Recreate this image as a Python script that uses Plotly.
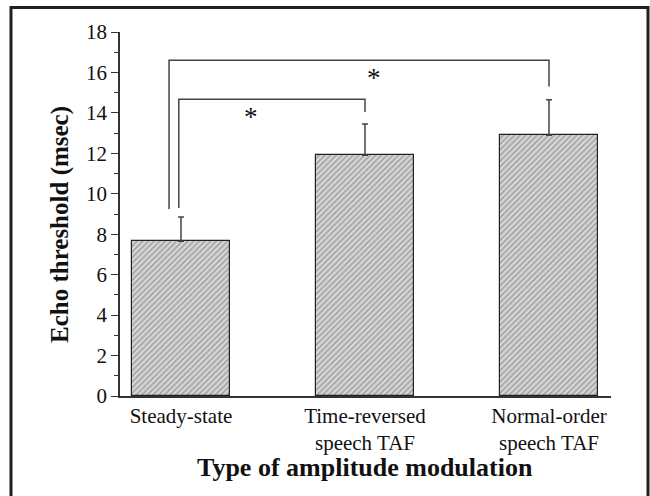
import plotly.graph_objects as go

categories = ["Steady-state", "Time-reversed<br>speech TAF", "Normal-order<br>speech TAF"]
means = [7.65, 11.9, 12.9]
errors = [1.2, 1.55, 1.75]
y_ticks = [0, 2, 4, 6, 8, 10, 12, 14, 16, 18]

# significance brackets: (left x, right x, left leg bottom, right leg bottom, top, star x, star y)
bracket_left_x = [-0.065, -0.012]
bracket_right_x = [2.0, 1.0]
bracket_left_bottom = [9.25, 9.3]
bracket_right_bottom = [15.3, 14.05]
bracket_top = [16.6, 14.68]
star_x = [1.05, 0.38]
star_y = [15.75, 13.8]

x_pos = list(range(len(categories)))
font_family = "Liberation Serif, Times New Roman, serif"

fig = go.Figure()
fig.add_trace(go.Bar(
    x=x_pos, y=means, width=0.533,
    marker=dict(
        color="#d2d2d2",
        line=dict(color="#222222", width=1.2),
        pattern=dict(shape="/", bgcolor="#d8d8d8", fgcolor="#707070", size=4, solidity=0.45),
    ),
    error_y=dict(type="data", symmetric=False, array=errors, arrayminus=[0] * len(errors),
                 color="#444444", thickness=1.5, width=3),
    showlegend=False,
))

for i in range(len(bracket_top)):
    fig.add_trace(go.Scatter(
        x=[bracket_left_x[i], bracket_left_x[i], bracket_right_x[i], bracket_right_x[i]],
        y=[bracket_left_bottom[i], bracket_top[i], bracket_top[i], bracket_right_bottom[i]],
        mode="lines", line=dict(color="#444444", width=1.5),
        showlegend=False, hoverinfo="skip", cliponaxis=False,
    ))
    fig.add_annotation(x=star_x[i], y=star_y[i], text="*", showarrow=False,
                       xanchor="center", yanchor="middle",
                       font=dict(size=27, color="#111111", family=font_family))

fig.update_layout(
    width=650, height=496,
    margin=dict(l=120, r=39, t=32, b=100),
    plot_bgcolor="white", paper_bgcolor="white",
    font=dict(family=font_family, color="#111111", size=21),
    bargap=0,
    xaxis=dict(
        range=[-0.3315, 2.337], tickmode="array", tickvals=x_pos, ticktext=categories,
        showline=True, linecolor="#333333", linewidth=1.5, ticks="", showgrid=False,
        zeroline=False, tickfont=dict(size=21),
    ),
    yaxis=dict(
        range=[0, 18], tickmode="array", tickvals=y_ticks,
        showline=True, linecolor="#333333", linewidth=1.5, ticks="outside", ticklen=7,
        tickcolor="#333333", tickwidth=1.2, showgrid=False, zeroline=False,
        minor=dict(dtick=1, ticks="outside", ticklen=4, tickcolor="#333333", tickwidth=1.2),
        tickfont=dict(size=21),
    ),
)

# axis titles placed as annotations to match the reference positions
fig.add_annotation(xref="paper", yref="paper", x=(365 - 120) / 491, y=(396 - 467) / 364,
                   xanchor="center", yanchor="middle",
                   text="<b>Type of amplitude modulation</b>", showarrow=False,
                   font=dict(size=26, family=font_family, color="#111111"))
fig.add_annotation(xref="paper", yref="paper", x=(60 - 120) / 491, y=(396 - 225) / 364,
                   xanchor="center", yanchor="middle",
                   text="<b>Echo threshold (msec)</b>", showarrow=False, textangle=-90,
                   font=dict(size=25, family=font_family, color="#111111"))

# outer frame
fig.add_shape(type="rect", xref="paper", yref="paper",
              x0=(11 - 120) / 491, x1=(648 - 120) / 491,
              y0=(396 - 510) / 364, y1=(396 - 7.5) / 364,
              line=dict(color="#231f20", width=3), fillcolor="rgba(0,0,0,0)")

fig.write_html("out.html")
